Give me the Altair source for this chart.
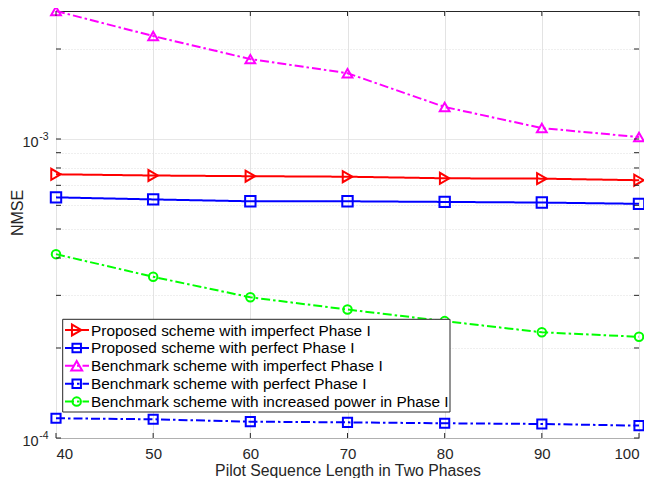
import altair as alt
import pandas as pd

# ---------------- data ----------------
pilot = [40, 50, 60, 70, 80, 90, 100]
series_names = [
    "Proposed scheme with imperfect Phase I",
    "Proposed scheme with perfect Phase I",
    "Benchmark scheme with imperfect Phase I",
    "Benchmark scheme with perfect Phase I",
    "Benchmark scheme with increased power in Phase I",
]
proposed_imperfect = [7.62e-4, 7.55e-4, 7.51e-4, 7.48e-4, 7.39e-4, 7.37e-4, 7.28e-4]
proposed_perfect = [6.38e-4, 6.28e-4, 6.19e-4, 6.19e-4, 6.16e-4, 6.13e-4, 6.07e-4]
bench_imperfect = [2.68e-3, 2.21e-3, 1.85e-3, 1.66e-3, 1.28e-3, 1.088e-3, 1.015e-3]
bench_perfect = [1.164e-4, 1.155e-4, 1.134e-4, 1.128e-4, 1.12e-4, 1.114e-4, 1.10e-4]
bench_power = [4.12e-4, 3.46e-4, 2.955e-4, 2.69e-4, 2.46e-4, 2.257e-4, 2.18e-4]

x_ticks = [40, 50, 60, 70, 80, 90, 100]
y_ticks = [1e-4, 2e-4, 3e-4, 4e-4, 5e-4, 6e-4, 7e-4, 8e-4, 9e-4, 1e-3, 2e-3]
decades = [1e-4, 1e-3]
exponents = ["-4", "-3"]

# ---------------- styles ----------------
colors = ["#ff0000", "#0000ff", "#ff00ff", "#0000ff", "#00ff00"]
dashes = [[1, 0], [1, 0], [9, 3, 2.5, 3], [9, 3, 2.5, 3], [9, 3, 2.5, 3]]
shapes = ["triangle-right", "square", "triangle-up", "square", "circle"]
sizes = [120, 72, 120, 72, 72]
AX = "#262626"
FONT = "Liberation Sans"
W, H = 583, 427

all_values = [proposed_imperfect, proposed_perfect, bench_imperfect, bench_perfect, bench_power]
rows = []
for name, vals in zip(series_names, all_values):
    for x, v in zip(pilot, vals):
        rows.append({"pilot": x, "nmse": v, "series": name})
df = pd.DataFrame(rows)

xscale = alt.Scale(domain=[40, 100], nice=False, zero=False)
yscale = alt.Scale(type="log", domain=[1e-4, 2.68e-3], nice=False)

xaxis = alt.Axis(
    values=x_ticks, format="d", ticks=False, tickSize=0, domain=False,
    grid=True, gridColor="#e3e3e3", gridWidth=1,
    labelFont=FONT, labelFontSize=15, labelColor=AX, labelPadding=20,
    labelBaseline="alphabetic",
    title="Pilot Sequence Length in Two Phases", titleFont=FONT, titleFontSize=15.8,
    titleFontWeight="normal", titleColor=AX, titleX=W / 2, titleY=37.5,
    titleBaseline="alphabetic", titleAlign="center",
)
yaxis = alt.Axis(
    values=y_ticks, labels=False, ticks=False, tickSize=0, domain=False,
    grid=True, gridColor="#dedede", gridWidth=1,
    gridDash={"condition": {"test": "datum.value === 0.001 || datum.value === 0.0001",
                            "value": [1, 0]}, "value": [1, 2]},
    title="NMSE", titleFont=FONT, titleFontSize=16, titleFontWeight="normal",
    titleColor=AX, titleX=-33.5, titleY=201.5, titleAngle=270,
    titleBaseline="alphabetic", titleAlign="center",
)

def X(f):
    return alt.X(f, type="quantitative", scale=xscale, axis=xaxis)

def Y(f):
    return alt.Y(f, type="quantitative", scale=yscale, axis=yaxis)

cscale = alt.Scale(domain=series_names, range=colors)
dscale = alt.Scale(domain=series_names, range=dashes)
sscale = alt.Scale(domain=series_names, range=shapes)
zscale = alt.Scale(domain=series_names, range=sizes)

base = alt.Chart(df)
lines = base.mark_line(strokeWidth=2).encode(
    x=X("pilot"), y=Y("nmse"),
    color=alt.Color("series:N", scale=cscale, legend=None),
    strokeDash=alt.StrokeDash("series:N", scale=dscale, legend=None),
    detail="series:N",
)
points = base.mark_point(filled=False, strokeWidth=2, opacity=1).encode(
    x=X("pilot"), y=Y("nmse"),
    color=alt.Color("series:N", scale=cscale, legend=None),
    shape=alt.Shape("series:N", scale=sscale, legend=None),
    size=alt.Size("series:N", scale=zscale, legend=None),
)

ytick_df = pd.DataFrame({"v": y_ticks})
xtick_df = pd.DataFrame({"v": x_ticks})
tick_left = alt.Chart(ytick_df).mark_rule(color=AX, strokeWidth=1).encode(
    y=Y("v"), x=alt.value(0), x2=alt.value(5))
tick_right = alt.Chart(ytick_df).mark_rule(color=AX, strokeWidth=1).encode(
    y=Y("v"), x=alt.value(W - 5), x2=alt.value(W))
tick_bottom = alt.Chart(xtick_df).mark_rule(color=AX, strokeWidth=1).encode(
    x=X("v"), y=alt.value(H - 5), y2=alt.value(H))
tick_top = alt.Chart(xtick_df).mark_rule(color=AX, strokeWidth=1).encode(
    x=X("v"), y=alt.value(0), y2=alt.value(5))

dec_df = pd.DataFrame({"v": decades, "exp": exponents})
dec_base = alt.Chart(dec_df).mark_text(
    align="right", baseline="alphabetic", font=FONT, fontSize=14.5, dy=7.8, color=AX
).encode(y=Y("v"), x=alt.value(-17.3), text=alt.value("10"))
dec_exp = alt.Chart(dec_df).mark_text(
    align="left", baseline="alphabetic", font=FONT, fontSize=10.5, dy=1.2, color=AX
).encode(y=Y("v"), x=alt.value(-16.7), text="exp:N")

# ---------------- legend ----------------
one = pd.DataFrame({"k": [0]})
legend_layers = [
    alt.Chart(one).mark_rect(fill="white", stroke=AX, strokeWidth=1).encode(
        x=alt.value(6.7), x2=alt.value(394), y=alt.value(308.3), y2=alt.value(401))
]
for i, name in enumerate(series_names):
    ly = 319 + i * 17.9
    ldf = pd.DataFrame({"series": [name]})
    legend_layers.append(
        alt.Chart(ldf).mark_rule(strokeWidth=2, color=colors[i], strokeDash=dashes[i]).encode(
            x=alt.value(9), x2=alt.value(33), y=alt.value(ly)))
    legend_layers.append(
        alt.Chart(ldf).mark_point(shape=shapes[i], size=sizes[i], filled=False,
                                  color=colors[i], strokeWidth=2, opacity=1).encode(
            x=alt.value(20.7), y=alt.value(ly)))
    legend_layers.append(
        alt.Chart(ldf).mark_text(align="left", baseline="middle", font=FONT,
                                 fontSize=15.4, color="#000000").encode(
            x=alt.value(35), y=alt.value(ly + 0.5), text="series:N"))

chart = alt.layer(
    lines, points, tick_left, tick_right, tick_bottom, tick_top,
    dec_base, dec_exp, *legend_layers
).properties(
    width=W, height=H,
    autosize=alt.AutoSizeParams(type="none"),
    padding={"left": 48, "top": 3, "right": 5, "bottom": 40},
    background="white",
).configure_view(stroke=AX, strokeWidth=1)

chart.save("out.html", embed_options={"renderer": "svg", "actions": False})
